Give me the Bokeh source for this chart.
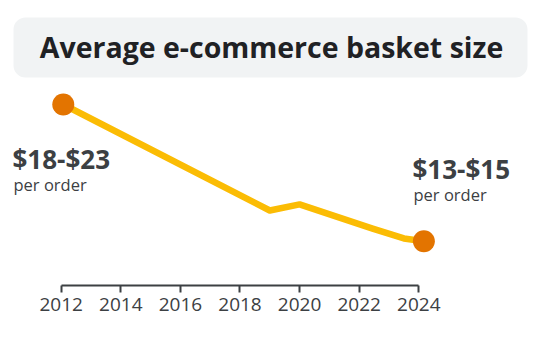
from bokeh.plotting import figure
from bokeh.models import Range1d, Label, BoxAnnotation, FixedTicker, ColumnDataSource
from bokeh.embed import file_html
from bokeh.resources import INLINE

# Data
years = [2012.07, 2019.0, 2020.0, 2022.45, 2023.5, 2024.17]
basket = [20.5, 15.46, 15.75, 14.6, 14.13, 14.0]
end_years = [years[0], years[-1]]
end_basket = [basket[0], basket[-1]]
tick_years = [2012, 2014, 2016, 2018, 2020, 2022, 2024]
title_text = "Average e-commerce basket size"
start_label = "$18-$23"
end_label = "$13-$15"
sub_label = "per order"

W, H = 547, 347
FRAME_H = 285

p = figure(width=W, height=H, output_backend="svg", toolbar_location=None,
           x_range=Range1d(2009.963, 2028.319), y_range=Range1d(11.893, 25.445),
           min_border_left=0, min_border_right=0, min_border_top=0,
           min_border_bottom=H - FRAME_H)
p.outline_line_color = None
p.background_fill_color = "white"
p.border_fill_color = "white"
p.xgrid.visible = False
p.ygrid.visible = False
p.yaxis.visible = False

ax = p.xaxis[0]
ax.ticker = FixedTicker(ticks=tick_years)
ax.bounds = (tick_years[0], tick_years[-1])
ax.axis_line_color = "#3c4043"
ax.axis_line_width = 2
ax.major_tick_line_color = "#3c4043"
ax.major_tick_line_width = 2
ax.major_tick_in = 0
ax.major_tick_out = 7
ax.minor_tick_line_color = None
ax.major_label_standoff = 5
ax.major_label_text_font = "Open Sans"
ax.major_label_text_font_size = "19px"
ax.major_label_text_color = "#3c4043"

src = ColumnDataSource(dict(x=years, y=basket))
p.line("x", "y", source=src, line_color="#FBBC04", line_width=6.5, line_join="round")
p.scatter(end_years, end_basket, size=22, fill_color="#E37400", line_color=None)

# Title box
box = BoxAnnotation(left=13, right=527, top=FRAME_H - 17, bottom=FRAME_H - 77,
                    left_units="screen", right_units="screen",
                    top_units="screen", bottom_units="screen",
                    fill_color="#f1f3f4", fill_alpha=1.0, line_color=None,
                    border_radius=12, level="underlay")
p.add_layout(box)

p.add_layout(Label(x=271, y=FRAME_H - 46, x_units="screen", y_units="screen",
                   text=title_text, text_align="center", text_baseline="alphabetic",
                   text_font="Open Sans", text_font_style="bold",
                   text_font_size="28.5px", text_color="#202124"))

p.add_layout(Label(x=12, y=FRAME_H - 158, x_units="screen", y_units="screen",
                   text=start_label, text_baseline="alphabetic",
                   text_font="Open Sans", text_font_style="bold",
                   text_font_size="26px", text_color="#3c4043"))
p.add_layout(Label(x=13, y=FRAME_H - 184, x_units="screen", y_units="screen",
                   text=sub_label, text_baseline="alphabetic",
                   text_font="Open Sans", text_font_size="16.5px", text_color="#3c4043"))
p.add_layout(Label(x=412, y=FRAME_H - 168, x_units="screen", y_units="screen",
                   text=end_label, text_baseline="alphabetic",
                   text_font="Open Sans", text_font_style="bold",
                   text_font_size="26px", text_color="#3c4043"))
p.add_layout(Label(x=413, y=FRAME_H - 194, x_units="screen", y_units="screen",
                   text=sub_label, text_baseline="alphabetic",
                   text_font="Open Sans", text_font_size="16.5px", text_color="#3c4043"))

open("out.html", "w").write(file_html(p, INLINE))
